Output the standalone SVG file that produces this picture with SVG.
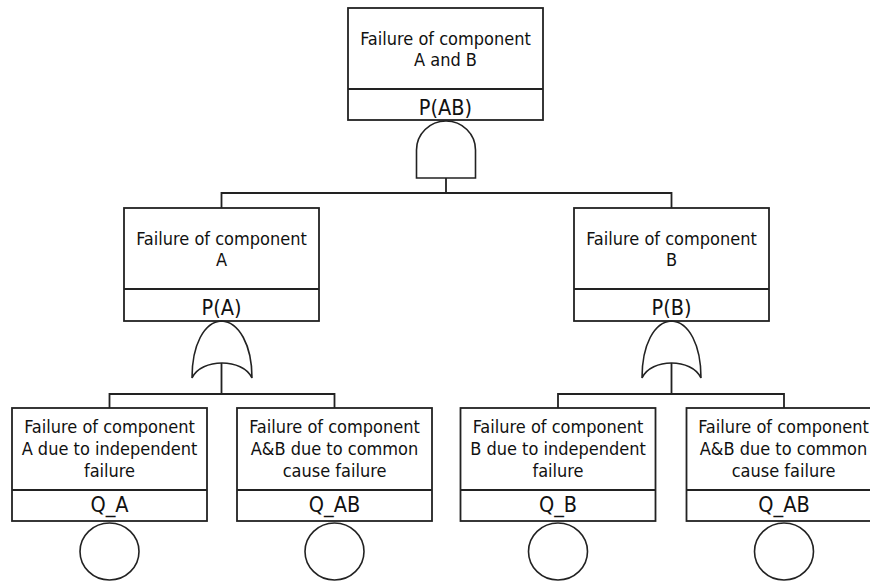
<svg xmlns="http://www.w3.org/2000/svg" width="870" height="581" viewBox="0 0 870 581">
<style>
.box{fill:#fff;stroke:#222;stroke-width:1.8}
.ln{fill:none;stroke:#222;stroke-width:1.8}
.gate{fill:#fff;stroke:#222;stroke-width:1.6}
.t{font-family:"DejaVu Sans Condensed","DejaVu Sans",sans-serif;font-stretch:condensed;font-size:18px;fill:#111;text-anchor:middle}
.id{font-family:"DejaVu Sans Condensed","DejaVu Sans",sans-serif;font-stretch:condensed;font-size:21.5px;fill:#111;text-anchor:middle}
</style>
<rect width="870" height="581" fill="#fff"/>
<g id="connectors">
<path class="ln" d="M446,178 V193 M221.5,208 V193 H671.5 V208"/>
<path class="ln" d="M221.5,362 V394 M109.5,408 V394 H334.5 V408"/>
<path class="ln" d="M671.5,362 V394 M558,408 V394 H784 V408"/>
</g>
<g id="top">
<rect class="box" x="348" y="8" width="195" height="112"/>
<line class="ln" x1="348" y1="89" x2="543" y2="89"/>
<text class="t" x="445.5" y="45">Failure of component</text>
<text class="t" x="445.5" y="66">A and B</text>
<text class="id" x="445.5" y="115">P(AB)</text>
</g>
<g id="and-gate">
<path class="gate" d="M416.5,178 V150 A29.5,29 0 0 1 475.5,150 V178 Z"/>
</g>
<g id="compA">
<rect class="box" x="124" y="208" width="195" height="113"/>
<line class="ln" x1="124" y1="289" x2="319" y2="289"/>
<text class="t" x="221.5" y="245">Failure of component</text>
<text class="t" x="221.5" y="266">A</text>
<text class="id" x="221.5" y="315">P(A)</text>
</g>
<g id="or-gate-A">
<path class="gate" d="M192,378 C192,345 204,322 221.5,321 C239,322 252,345 252,378 C243,358 201,358 192,378 Z"/>
</g>
<g id="compB">
<rect class="box" x="574" y="208" width="195" height="113"/>
<line class="ln" x1="574" y1="289" x2="769" y2="289"/>
<text class="t" x="671.5" y="245">Failure of component</text>
<text class="t" x="671.5" y="266">B</text>
<text class="id" x="671.5" y="315">P(B)</text>
</g>
<g id="or-gate-B">
<path class="gate" d="M642,378 C642,345 654,322 671.5,321 C689,322 701,345 701,378 C692,358 651,358 642,378 Z"/>
</g>
<g id="QA">
<rect class="box" x="12" y="408" width="195" height="113"/>
<line class="ln" x1="12" y1="490" x2="207" y2="490"/>
<text class="t" x="109.5" y="433">Failure of component</text>
<text class="t" x="109.5" y="455">A due to independent</text>
<text class="t" x="109.5" y="477">failure</text>
<text class="id" x="109.5" y="512">Q_A</text>
<ellipse class="gate" cx="109.5" cy="551.5" rx="29.5" ry="28.5"/>
</g>
<g id="QAB1">
<rect class="box" x="237" y="408" width="195" height="113"/>
<line class="ln" x1="237" y1="490" x2="432" y2="490"/>
<text class="t" x="334.5" y="433">Failure of component</text>
<text class="t" x="334.5" y="455">A&amp;B due to common</text>
<text class="t" x="334.5" y="477">cause failure</text>
<text class="id" x="334.5" y="512">Q_AB</text>
<ellipse class="gate" cx="334.5" cy="551.5" rx="29.5" ry="28.5"/>
</g>
<g id="QB">
<rect class="box" x="460.5" y="408" width="195" height="113"/>
<line class="ln" x1="460.5" y1="490" x2="655.5" y2="490"/>
<text class="t" x="558" y="433">Failure of component</text>
<text class="t" x="558" y="455">B due to independent</text>
<text class="t" x="558" y="477">failure</text>
<text class="id" x="558" y="512">Q_B</text>
<ellipse class="gate" cx="558" cy="551.5" rx="29.5" ry="28.5"/>
</g>
<g id="QAB2">
<rect class="box" x="686.5" y="408" width="195" height="113"/>
<line class="ln" x1="686.5" y1="490" x2="881.5" y2="490"/>
<text class="t" x="783.5" y="433">Failure of component</text>
<text class="t" x="783.5" y="455">A&amp;B due to common</text>
<text class="t" x="783.5" y="477">cause failure</text>
<text class="id" x="784" y="512">Q_AB</text>
<ellipse class="gate" cx="784" cy="551.5" rx="29.5" ry="28.5"/>
</g>
</svg>
